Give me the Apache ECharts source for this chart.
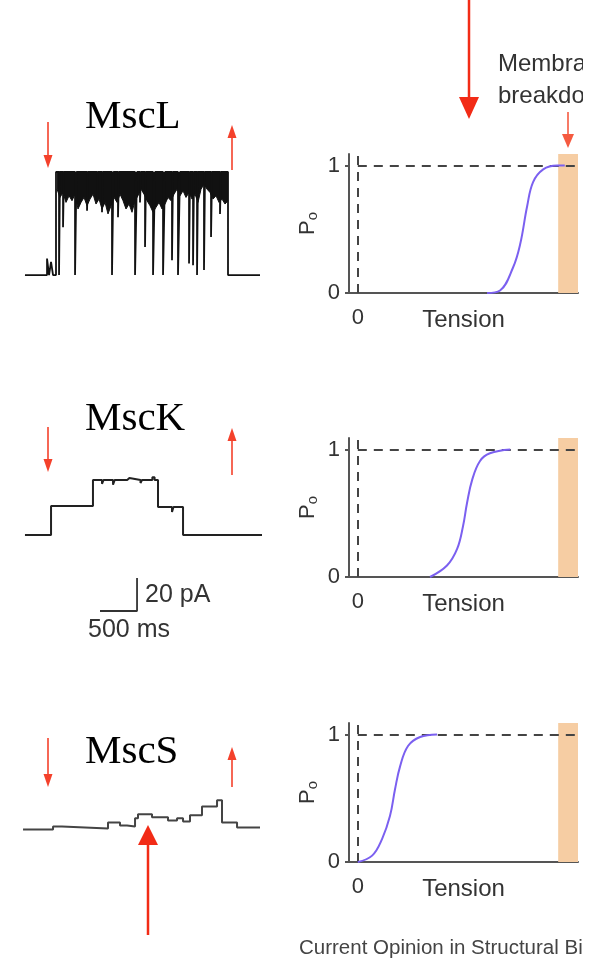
<!DOCTYPE html>
<html>
<head>
<meta charset="utf-8">
<title>MscL / MscK / MscS</title>
<script src="https://cdn.jsdelivr.net/npm/echarts@6.0.0/dist/echarts.min.js"></script>
<style>
  html, body { margin: 0; padding: 0; background: #fff; }
  #chart { width: 583px; height: 962px; }
</style>
</head>
<body>
<div id="chart"></div>
<script>
// patch-clamp traces: time (ms) / current (pA), each point starts a new level
const mscLTime = [40, 338, 365, 392, 419, 459, 500, 513, 554, 567, 716, 736, 878, 892, 1013, 1027, 1080, 1094,
  1215, 1235, 1296, 1310, 1526, 1553, 1593, 1607, 1661, 1675, 1769, 1796, 1904, 1931, 2025, 2039, 2106, 2133,
  2255, 2269, 2309, 2323, 2363, 2376, 2457, 2471, 2552, 2566, 2673, 2687, 2781, 3213]
const mscLCurrent = [0, 10, 0, 8, 0, 62.4, 0, 62.4, 29, 62.4, 0, 62.4, 39, 62.4, 45, 62.4, 38, 62.4,
  0, 62.4, 35, 62.4, 0, 62.4, 44, 62.4, 17, 62.4, 0, 62.4, 0, 62.4, 9, 62.4, 0, 62.4,
  7, 62.4, 6, 62.4, 0, 62.4, 3, 62.4, 23, 62.4, 37, 62.4, 0, 0]

// lower edge of the noisy open-state band of MscL
const mscLBandTime = [473, 513, 554, 594, 635, 675, 716, 756, 797, 837, 878, 918, 959, 999, 1040, 1080, 1121, 1161,
  1202, 1242, 1283, 1323, 1364, 1404, 1445, 1485, 1526, 1566, 1607, 1647, 1688, 1728, 1769, 1809, 1850, 1890,
  1931, 1971, 2012, 2052, 2093, 2133, 2174, 2214, 2255, 2295, 2336, 2376, 2417, 2457, 2498, 2538, 2579, 2619,
  2660, 2700, 2741, 2781]
const mscLBandLow = [52, 47, 50, 44, 48, 45, 49, 40, 44, 47, 42, 46, 49, 43, 46, 40, 44, 37,
  42, 47, 44, 49, 45, 40, 43, 38, 45, 48, 52, 49, 45, 42, 38, 41, 44, 40,
  43, 47, 45, 49, 52, 48, 51, 47, 50, 46, 49, 44, 52, 55, 52, 50, 46, 48,
  44, 46, 43, 45]

const mscKTime = [40, 392, 958, 1080, 1100, 1229, 1250, 1420, 1450, 1600, 1620, 1760, 1790, 1836, 2025, 2045, 2174, 3240]
const mscKCurrent = [0, 17.6, 33.3, 31, 33.3, 30.5, 33.3, 34.5, 33.3, 31.5, 33.3, 35, 33.3, 17, 14, 17, 0, 0]

const mscSTime = [14, 419, 540, 1161, 1323, 1418, 1526, 1566, 1755, 1971, 2093, 2174, 2268, 2430, 2633, 2700, 2903, 3213]
const mscSCurrent = [-0.6, 1.2, 0, 3.6, 1.8, 1.2, 6.1, 8.5, 6.7, 4.8, 6.1, 4.2, 7.9, 13.3, 17, 3.6, 0.6, 0.6]

// scale bar: 500 ms / 20 pA
const scaleBarTime = [1053, 1553, 1553]
const scaleBarCurrent = [0, 0, 20]

// open probability vs tension (arbitrary tension units)
const tensionL = [5.87, 6.46, 7.05, 7.37, 7.69, 7.96, 8.42, 9.05, 9.4]
const poL = [0, 0.02, 0.2, 0.38, 0.68, 0.87, 0.97, 1, 1]
const tensionK = [3.28, 4.05, 4.51, 4.78, 4.96, 5.19, 5.55, 6.0, 6.92]
const poK = [0, 0.09, 0.22, 0.4, 0.58, 0.76, 0.91, 0.97, 1]
const tensionS = [0, 0.65, 1.1, 1.46, 1.69, 1.92, 2.28, 2.83, 3.6]
const poS = [0, 0.05, 0.18, 0.36, 0.57, 0.75, 0.91, 0.98, 1]

const breakdown = [9.1, 10]
const poTicks = [0, 1]
const tensionTicks = [0]

const pairs = (xs, ys) => xs.map((x, i) => [x, ys[i]])

const RED = '#f4412b'
const INK = '#333'
const SANS = '"Liberation Sans", Arial, sans-serif'
const SERIF = '"Liberation Serif", "Times New Roman", serif'

const chart = echarts.init(document.getElementById('chart'))

// trace grids + scale bar grid + three Po panels
const grids = [
  { left: 22, top: 172, width: 240, height: 108 },
  { left: 22, top: 470, width: 240, height: 70 },
  { left: 22, top: 795, width: 240, height: 40 },
  { left: 22, top: 575, width: 240, height: 40 },
  { left: 349, top: 154, width: 229, height: 139 },
  { left: 349, top: 438, width: 229, height: 139 },
  { left: 349, top: 723, width: 229, height: 139 }
]
const traceY = [[-3, 62.4], [-3, 39.4], [-4, 20.24], [-2.42, 21.82]]

const xAxes = [], yAxes = []
for (let i = 0; i < 4; i++) {
  xAxes.push({ gridIndex: i, type: 'value', min: 0, max: 3240, show: false })
  yAxes.push({ gridIndex: i, type: 'value', min: traceY[i][0], max: traceY[i][1], show: false })
}
const axisLine = { show: true, onZero: false, lineStyle: { color: '#555', width: 2 } }
for (let i = 4; i < 7; i++) {
  xAxes.push({
    gridIndex: i, type: 'value', min: -0.4, max: 10,
    axisLine: axisLine,
    axisTick: { show: false },
    splitLine: { show: false },
    axisLabel: { customValues: tensionTicks, fontSize: 22, color: INK, fontFamily: SANS, margin: 14 },
    name: 'Tension', nameLocation: 'middle', nameGap: 15, nameMoveOverlap: false,
    nameTextStyle: { fontSize: 24, color: INK, fontFamily: SANS, verticalAlign: 'top' }
  })
  yAxes.push({
    gridIndex: i, type: 'value', min: 0, max: 1.09,
    axisLine: axisLine,
    axisTick: { show: true, customValues: poTicks, length: 4, lineStyle: { color: '#555', width: 2 } },
    splitLine: { show: false },
    axisLabel: { customValues: poTicks, fontSize: 22, color: INK, fontFamily: SANS, margin: 9 },
    name: '{p|P}{o|o}', nameLocation: 'middle', nameRotate: 90, nameGap: 30, nameMoveOverlap: false,
    nameTextStyle: {
      rich: {
        p: { fontSize: 22, color: INK, fontFamily: SANS, lineHeight: 22 },
        o: { fontSize: 15, color: INK, fontFamily: SANS, lineHeight: 15, padding: [10, 0, 0, 0] }
      }
    }
  })
}

const trace = (idx, time, current, width, color) => ({
  type: 'line', xAxisIndex: idx, yAxisIndex: idx, step: 'end',
  data: pairs(time, current), showSymbol: false, clip: false,
  lineStyle: { color: color, width: width }
})

const poCurve = (idx, t, po) => ({
  type: 'line', xAxisIndex: idx, yAxisIndex: idx,
  data: pairs(t, po), smooth: 0.4, showSymbol: false, z: 5,
  lineStyle: { color: '#7b60f0', width: 2 },
  markLine: {
    silent: true, symbol: 'none', label: { show: false },
    lineStyle: { type: [9, 7], color: '#444', width: 2 },
    data: [
      [{ coord: [0, 1] }, { coord: [10, 1] }],
      [{ coord: [0, 0] }, { coord: [0, 1.09] }]
    ]
  },
  markArea: {
    silent: true,
    itemStyle: { color: '#f6cda3' },
    data: [[{ xAxis: breakdown[0] }, { xAxis: breakdown[1] }]]
  }
})

const series = [
  {
    type: 'line', xAxisIndex: 0, yAxisIndex: 0,
    data: pairs(mscLBandTime, mscLBandLow), showSymbol: false,
    lineStyle: { color: '#111', width: 1 },
    areaStyle: { origin: 'end', color: '#111', opacity: 1 }
  },
  trace(0, mscLTime, mscLCurrent, 1.8, '#111'),
  trace(1, mscKTime, mscKCurrent, 2, '#222'),
  trace(2, mscSTime, mscSCurrent, 2, '#444'),
  {
    type: 'line', xAxisIndex: 3, yAxisIndex: 3,
    data: pairs(scaleBarTime, scaleBarCurrent), showSymbol: false,
    lineStyle: { color: INK, width: 1.8 }
  },
  poCurve(4, tensionL, poL),
  poCurve(5, tensionK, poK),
  poCurve(6, tensionS, poS)
]

// red arrows (annotation)
function arrow(x, tail, tip, w, headW, headH, color) {
  const dir = tip > tail ? 1 : -1
  const base = tip - dir * headH
  return [
    { type: 'line', shape: { x1: x, y1: tail, x2: x, y2: base }, style: { stroke: color, lineWidth: w } },
    { type: 'polygon', shape: { points: [[x - headW / 2, base], [x + headW / 2, base], [x, tip]] }, style: { fill: color } }
  ]
}
const label = (text, x, y, size, font, color) => ({
  type: 'text', x: x, y: y,
  style: { text: text, fontSize: size, fontFamily: font, fill: color, align: 'left', verticalAlign: 'middle' }
})

const graphic = [].concat(
  arrow(48, 122, 168, 1.6, 9, 13, RED),
  arrow(232, 170, 125, 1.6, 9, 13, RED),
  arrow(48, 427, 472, 1.6, 9, 13, RED),
  arrow(232, 475, 428, 1.6, 9, 13, RED),
  arrow(48, 738, 787, 1.6, 9, 13, RED),
  arrow(232, 787, 747, 1.6, 9, 13, RED),
  arrow(469, 0, 119, 2.5, 20, 22, '#f22b16'),
  arrow(148, 935, 825, 2.5, 20, 20, '#f22b16'),
  arrow(568, 112, 148, 1.6, 12, 14, '#f55a40'),
  [
    label('MscL', 85, 117, 41, SERIF, '#000'),
    label('MscK', 85, 419, 41, SERIF, '#000'),
    label('MscS', 85, 752, 41, SERIF, '#000'),
    label('20 pA', 145, 595, 25, SANS, INK),
    label('500 ms', 88, 630, 25, SANS, INK),
    label('Membrane', 498, 64, 24, SANS, INK),
    label('breakdown', 498, 96, 24, SANS, INK),
    label('Current Opinion in Structural Biology', 299, 948, 20.5, SANS, '#444')
  ]
)

chart.setOption({
  animation: false,
  backgroundColor: '#fff',
  grid: grids,
  xAxis: xAxes,
  yAxis: yAxes,
  series: series,
  graphic: graphic
})
</script>
</body>
</html>
